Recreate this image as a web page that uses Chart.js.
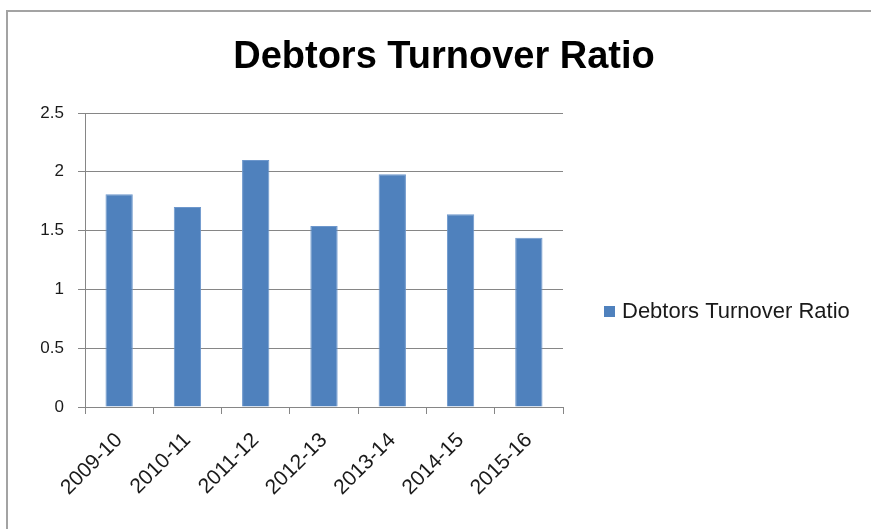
<!DOCTYPE html>
<html>
<head>
<meta charset="utf-8">
<title>Debtors Turnover Ratio</title>
<script src="https://cdn.jsdelivr.net/npm/chart.js@4"></script>
<style>
  html, body { margin:0; padding:0; background:#fff; }
  #wrap { width:871px; height:529px; position:relative; }
</style>
</head>
<body>
<div id="wrap"><canvas id="chart" width="871" height="529"></canvas></div>
<script>
// Data
const years = ['2009-10','2010-11','2011-12','2012-13','2013-14','2014-15','2015-16'];
const turnover = [1.81, 1.70, 2.10, 1.54, 1.98, 1.64, 1.44];
const seriesName = 'Debtors Turnover Ratio';
const yTicks = [0, 0.5, 1, 1.5, 2, 2.5];

const FONT = '"Liberation Sans", Arial, sans-serif';
const BAR = '#4F81BD';
const GRID = '#868686';

// outer frame (top + left edge only)
const framePlugin = {
  id: 'frame',
  beforeDraw(chart){
    const ctx = chart.ctx;
    ctx.save();
    ctx.strokeStyle = '#a3a3a3';
    ctx.lineWidth = 2;
    ctx.beginPath();
    ctx.moveTo(7, chart.height);
    ctx.lineTo(7, 11);
    ctx.lineTo(chart.width, 11);
    ctx.stroke();
    ctx.restore();
  }
};

// title centred on the whole frame + legend on the right
const headerLegend = {
  id: 'headerLegend',
  afterDraw(chart){
    const ctx = chart.ctx;
    ctx.save();
    ctx.fillStyle = '#000';
    ctx.font = 'bold 38px ' + FONT;
    ctx.textAlign = 'center';
    ctx.textBaseline = 'middle';
    ctx.fillText(seriesName, 444, 58);

    const x = chart.chartArea.right + 41, y = 312;
    ctx.fillStyle = BAR;
    ctx.fillRect(x, y - 6, 11, 11);
    ctx.fillStyle = '#1a1a1a';
    ctx.font = '22px ' + FONT;
    ctx.textAlign = 'left';
    ctx.fillText(seriesName, x + 18, y);
    ctx.restore();
  }
};

new Chart(document.getElementById('chart'), {
  type: 'bar',
  data: {
    labels: years,
    datasets: [{
      label: seriesName,
      data: turnover,
      backgroundColor: BAR,
      borderColor: '#6d97cc',
      borderWidth: 1,
      barPercentage: 0.4,
      categoryPercentage: 1
    }]
  },
  options: {
    responsive: false,
    animation: false,
    layout: { padding: { left: 7, top: 113, right: 308, bottom: 0 } },
    plugins: {
      legend: { display: false },
      tooltip: { enabled: false },
      title: { display: false }
    },
    scales: {
      x: {
        grid: { display: true, drawOnChartArea: false, offset: true, color: GRID, tickLength: 7, tickColor: GRID },
        border: { display: true, color: GRID, width: 1 },
        ticks: {
          color: '#1a1a1a', font: { family: FONT, size: 21 },
          minRotation: 45, maxRotation: 45, padding: 14
        },
        afterFit: (s) => { s.height = 122; }
      },
      y: {
        min: 0, max: 2.5,
        grid: { color: GRID, tickLength: 7, tickColor: GRID },
        border: { display: true, color: GRID, width: 1 },
        ticks: {
          color: '#1a1a1a', font: { family: FONT, size: 17 },
          stepSize: 0.5, padding: 14,
          callback: (v) => yTicks.includes(v) ? String(v) : ''
        },
        afterFit: (s) => { s.width = 78; }
      }
    }
  },
  plugins: [framePlugin, headerLegend]
});
</script>
</body>
</html>
